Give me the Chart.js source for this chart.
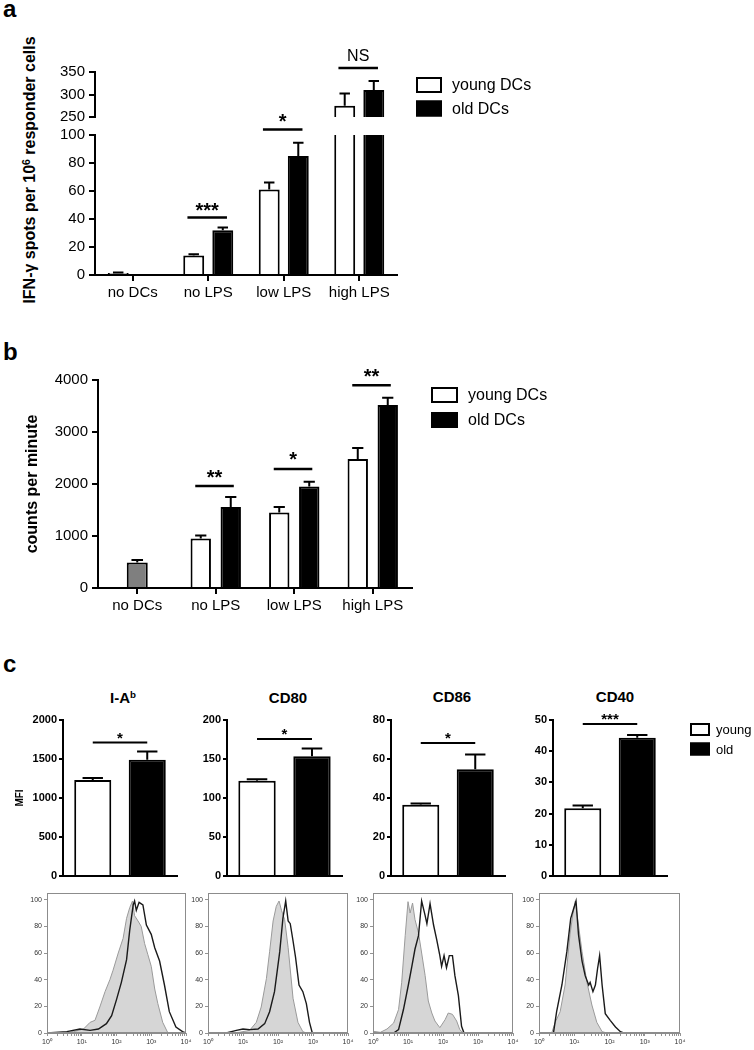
<!DOCTYPE html>
<html lang="en">
<head>
<meta charset="UTF-8" />
<title>Young vs old DCs</title>
<script src="https://cdn.jsdelivr.net/npm/chart.js"></script>
<style>
  body { margin: 0; background: #fff; }
  #stage { position: relative; width: 754px; height: 1050px; overflow: hidden;
           font-family: 'Liberation Sans', Arial, Helvetica, sans-serif; color: #000; }
  #stage canvas { position: absolute; left: 0; top: 0; }
  .txt { position: absolute; white-space: nowrap; line-height: 1; }
  .letter { font-weight: bold; font-size: 24px; }
  .sub { font-weight: bold; font-size: 15px; transform: translate(-50%, -50%); }
  .ytitle { font-weight: bold; font-size: 16px; transform: translate(-50%, -50%) rotate(-90deg); }
  sup { font-size: 65%; line-height: 0; vertical-align: 0.45em; }
</style>
</head>
<body>
<div id="stage">
  <div class="txt letter" style="left:3px;top:-3px">a</div>
  <div class="txt letter" style="left:3px;top:340px">b</div>
  <div class="txt letter" style="left:3px;top:652px">c</div>
  <div class="txt ytitle" style="left:30px;top:170px">IFN-γ spots per 10<sup>6</sup> responder cells</div>
  <div class="txt sub" style="left:123px;top:697px">I-A<sup>b</sup></div>
  <div class="txt sub" style="left:288px;top:697px">CD80</div>
  <div class="txt sub" style="left:452px;top:696px">CD86</div>
  <div class="txt sub" style="left:615px;top:696px">CD40</div>
</div>

<script>
// ---- panel a: IFN-γ spots ----
const aCategories = ['no DCs', 'no LPS', 'low LPS', 'high LPS'];
const aYoung = [1.5, 14, 61, 275];
const aYoungErr = [0.3, 0.8, 5, 27];
const aOld = [null, 32, 85, 310];
const aOldErr = [null, 2, 9.5, 20];
const aSigLabels = [null, '***', '*', 'NS'];
const aSigY = [null, 41, 104, 359];

// ---- panel b: counts per minute ----
const bCategories = ['no DCs', 'no LPS', 'low LPS', 'high LPS'];
const bControl = [490, null, null, null];
const bControlErr = [50, null, null, null];
const bYoung = [null, 950, 1450, 2480];
const bYoungErr = [null, 60, 110, 210];
const bOld = [null, 1560, 1950, 3520];
const bOldErr = [null, 190, 95, 140];
const bSigLabels = [null, '**', '*', '**'];
const bSigY = [null, 1960, 2290, 3900];

// ---- panel c: MFI ----
const cMarkers = ['I-Ab', 'CD80', 'CD86', 'CD40'];
const cYoung = [1230, 122, 36.6, 21.7];
const cYoungErr = [25, 2, 0.6, 0.9];
const cOld = [1490, 153.5, 54.7, 44.3];
const cOldErr = [105, 10, 7.6, 0.9];
const cMax = [2000, 200, 80, 50];
const cStep = [500, 50, 20, 10];
const cSigLabels = ['*', '*', '*', '***'];
const cSigY = [1710, 175.6, 68.2, 48.7];

// ---- histograms (x = log10 fluorescence, y = % of max) ----
const histYTicks = [0, 20, 40, 60, 80, 100];
const h1GrayX = [0.48, 0.76, 1.05, 1.24, 1.38, 1.52, 1.67, 1.81, 1.90, 2.05, 2.19, 2.29, 2.38, 2.46, 2.52, 2.62, 2.71, 2.81, 2.90, 3.00, 3.10, 3.19, 3.33, 3.48];
const h1GrayY = [0, 1, 3, 8, 9.5, 19.5, 31, 40, 47, 60, 71, 86, 94, 99, 88, 84, 80, 67, 59, 50, 33, 22, 8, 0];
const h1BlackX = [0, 0.57, 0.95, 1.24, 1.48, 1.71, 1.86, 2.0, 2.14, 2.29, 2.38, 2.48, 2.52, 2.57, 2.65, 2.76, 2.86, 3.0, 3.1, 3.24, 3.38, 3.52, 3.71, 3.9, 4.0];
const h1BlackY = [0, 1, 3, 2, 3, 7, 13, 25, 38, 55, 77, 96, 99, 92, 98, 96, 81, 74, 64, 54, 36, 16, 4.5, 1, 0];

const h2GrayX = [0.52, 0.9, 1.19, 1.38, 1.52, 1.67, 1.76, 1.86, 1.95, 2.03, 2.1, 2.19, 2.29, 2.43, 2.57, 2.71, 2.81];
const h2GrayY = [0, 0.5, 2, 8, 19.5, 41, 61, 84, 95, 99, 92, 85, 64, 26, 8, 1, 0];
const h2BlackX = [0, 0.52, 0.81, 1.0, 1.19, 1.43, 1.62, 1.76, 1.9, 2.05, 2.14, 2.22, 2.29, 2.35, 2.43, 2.5, 2.6, 2.71, 2.81, 2.9, 2.98, 4.0];
const h2BlackY = [0, 0, 2, 3, 2.5, 3, 7, 16, 31, 61, 86, 99, 84, 82, 69, 57, 36, 31, 22, 8, 0, 0];

const h3GrayX = [0, 0.21, 0.4, 0.59, 0.73, 0.82, 0.92, 1.0, 1.06, 1.13, 1.2, 1.3, 1.39, 1.49, 1.58, 1.68, 1.77, 1.91, 2.06, 2.15, 2.27, 2.39, 2.48, 2.58];
const h3GrayY = [1.3, 0.5, 3, 7.5, 17.6, 38, 73, 98.5, 90, 97.5, 85, 75, 60, 43, 24, 15, 9, 4, 10, 15, 14, 9, 2.5, 0];
const h3BlackX = [0, 0.59, 0.73, 0.87, 1.01, 1.11, 1.2, 1.3, 1.39, 1.49, 1.54, 1.63, 1.73, 1.82, 1.91, 1.96, 2.03, 2.1, 2.18, 2.27, 2.34, 2.44, 2.53, 2.6, 4.0];
const h3BlackY = [0, 0, 2.5, 17.6, 36, 50, 63, 73, 99, 88, 82, 97, 81, 70, 58, 50, 58, 49, 58, 58, 43, 28, 5, 0, 0];

const h4GrayX = [0.36, 0.46, 0.6, 0.74, 0.88, 0.96, 1.03, 1.12, 1.22, 1.36, 1.5, 1.64, 1.79, 1.93];
const h4GrayY = [0, 8, 16, 36, 74, 89, 99, 81, 61, 38, 21, 8, 1, 0];
const h4BlackX = [0, 0.41, 0.5, 0.65, 0.79, 0.9, 0.98, 1.05, 1.12, 1.22, 1.31, 1.41, 1.45, 1.53, 1.6, 1.66, 1.72, 1.79, 1.88, 2.02, 2.17, 2.31, 2.4, 4.0];
const h4BlackY = [0, 0, 16, 36, 61, 86, 93, 99, 74, 54, 43, 36, 38, 31, 36, 48, 58, 36, 14.5, 9.5, 4.5, 1, 0, 0];

// ---- setup ----
const W = 754, H = 1050;
Chart.defaults.font.family = "'Liberation Sans', Arial, Helvetica, sans-serif";
Chart.defaults.color = '#000';
Chart.defaults.animation = false;
Chart.defaults.responsive = false;
Chart.defaults.devicePixelRatio = 1;
Chart.defaults.plugins.legend.display = false;
Chart.defaults.plugins.tooltip.enabled = false;

const stage = document.getElementById('stage');
function newCanvas() {
  const c = document.createElement('canvas');
  c.width = W; c.height = H;
  stage.appendChild(c);
  return c;
}

// error bars: only the upper whisker, like the original
function errorBars(cap) {
  return {
    id: 'errorBars',
    afterDatasetsDraw(chart) {
      const ctx = chart.ctx, ys = chart.scales.y;
      ctx.save();
      ctx.strokeStyle = '#000';
      ctx.lineWidth = 2;
      chart.data.datasets.forEach((ds, i) => {
        if (!ds.errors) return;
        chart.getDatasetMeta(i).data.forEach((bar, j) => {
          const v = ds.data[j], e = ds.errors[j];
          if (v == null || !e || v > ys.max || v < ys.min) return;
          const top = ys.getPixelForValue(v + e);
          const half = bar.width * cap / 2;
          ctx.beginPath();
          ctx.moveTo(bar.x, bar.y); ctx.lineTo(bar.x, top);
          ctx.moveTo(bar.x - half, top); ctx.lineTo(bar.x + half, top);
          ctx.stroke();
        });
      });
      ctx.restore();
    }
  };
}

// significance lines with stars / NS
function sigLines(o) {
  return {
    id: 'sigLines',
    afterDatasetsDraw(chart) {
      const ctx = chart.ctx, ys = chart.scales.y;
      const m0 = chart.getDatasetMeta(o.a).data, m1 = chart.getDatasetMeta(o.b).data;
      ctx.save();
      ctx.strokeStyle = '#000'; ctx.fillStyle = '#000';
      ctx.lineWidth = o.lineWidth;
      ctx.textAlign = 'center'; ctx.textBaseline = 'alphabetic';
      o.y.forEach((v, j) => {
        if (v == null) return;
        const x0 = m0[j].x - m0[j].width * o.left;
        const x1 = m1[j].x + m1[j].width * o.right;
        const py = ys.getPixelForValue(v);
        ctx.beginPath(); ctx.moveTo(x0, py); ctx.lineTo(x1, py); ctx.stroke();
        const star = /^\*+$/.test(o.labels[j]);
        ctx.font = star ? o.starFont : o.textFont;
        ctx.fillText(o.labels[j], (x0 + x1) / 2, py - (star ? o.starGap : o.textGap));
      });
      ctx.restore();
    }
  };
}

// legend with outlined boxes
function boxLegend(o) {
  return {
    id: 'boxLegend',
    afterDraw(chart) {
      const ctx = chart.ctx;
      ctx.save();
      ctx.font = o.font; ctx.textBaseline = 'middle'; ctx.textAlign = 'left';
      chart.data.datasets.filter(d => d.inLegend).forEach((d, i) => {
        const y = o.y + i * o.pitch;
        ctx.fillStyle = d.backgroundColor;
        ctx.fillRect(o.x, y, o.w, o.h);
        ctx.strokeStyle = '#000'; ctx.lineWidth = 2;
        ctx.strokeRect(o.x + 1, y + 1, o.w - 2, o.h - 2);
        ctx.fillStyle = '#000';
        ctx.fillText(d.label, o.textX, y + o.h / 2 + 1);
      });
      ctx.restore();
    }
  };
}

function barSet(label, data, errors, fill, extra) {
  return Object.assign({ label, data, errors, backgroundColor: fill, borderColor: '#000',
    borderWidth: 2, borderSkipped: 'start', clip: 0 }, extra || {});
}

function barChart(o) {
  const a = o.area;
  return new Chart(newCanvas(), {
    type: 'bar',
    data: { labels: o.labels, datasets: o.datasets },
    options: {
      layout: { padding: { left: a.l - o.yW, right: W - a.r, top: a.t, bottom: H - a.b - o.xH } },
      datasets: { bar: { categoryPercentage: o.cp, barPercentage: o.bp } },
      scales: {
        x: {
          display: o.xDisplay,
          offset: true,
          afterFit: s => { s.height = o.xH; },
          grid: { offset: false, drawOnChartArea: false, drawTicks: o.xTicks, tickLength: 6,
                  color: '#000', lineWidth: 2 },
          border: { color: '#000', width: 2 },
          ticks: { display: o.xTicks, font: o.tickFont, padding: 3, maxRotation: 0, autoSkip: false }
        },
        y: {
          min: o.yMin, max: o.yMax,
          afterFit: s => { s.width = o.yW; },
          grid: { drawOnChartArea: false, tickLength: o.tickLen, color: '#000', lineWidth: 2 },
          border: { color: '#000', width: 2 },
          ticks: { stepSize: o.yStep, font: o.tickFont, padding: o.tickPad, callback: v => String(v) },
          title: o.yTitle || { display: false }
        }
      }
    },
    plugins: o.plugins
  });
}

// ---- panel a: broken axis = two stacked charts sharing the categories ----
const aTick = { size: 15 };
function aDatasets() {
  return [
    barSet('young DCs', aYoung, aYoungErr, '#ffffff', { inLegend: true }),
    barSet('old DCs', aOld, aOldErr, '#000000', { inLegend: true })
  ];
}
const aSigStyle = { a: 0, b: 1, left: 0.3, right: 0.2, lineWidth: 2.5,
  starFont: 'bold 20px "Liberation Sans", Arial', starGap: 1,
  textFont: '16px "Liberation Sans", Arial', textGap: 7 };

barChart({
  area: { l: 95, r: 397, t: 72, b: 117 }, labels: aCategories, datasets: aDatasets(),
  yMin: 250, yMax: 350, yStep: 50, yW: 50, xH: 0, xDisplay: false, xTicks: false,
  tickFont: aTick, tickLen: 6, tickPad: 4, cp: 0.77, bp: 0.72,
  plugins: [errorBars(0.5),
    sigLines(Object.assign({ y: aSigY.map(v => (v != null && v >= 250) ? v : null), labels: aSigLabels }, aSigStyle)),
    boxLegend({ x: 416, y: 77, w: 26, h: 16, pitch: 23.5, textX: 452, font: '16px "Liberation Sans", Arial' })]
});
barChart({
  area: { l: 95, r: 397, t: 135, b: 275 }, labels: aCategories, datasets: aDatasets(),
  yMin: 0, yMax: 100, yStep: 20, yW: 50, xH: 28, xDisplay: true, xTicks: true,
  tickFont: aTick, tickLen: 6, tickPad: 4, cp: 0.77, bp: 0.72,
  plugins: [errorBars(0.5),
    sigLines(Object.assign({ y: aSigY.map(v => (v != null && v < 250) ? v : null), labels: aSigLabels }, aSigStyle))]
});

// ---- panel b ----
barChart({
  area: { l: 98, r: 412, t: 380, b: 588 }, labels: bCategories,
  datasets: [
    barSet('young DCs', bYoung, bYoungErr, '#ffffff', { inLegend: true }),
    barSet('old DCs', bOld, bOldErr, '#000000', { inLegend: true }),
    barSet('no DCs', bControl, bControlErr, '#7f7f7f', { grouped: false, maxBarThickness: 21 })
  ],
  yMin: 0, yMax: 4000, yStep: 1000, yW: 80, xH: 30, xDisplay: true, xTicks: true,
  tickFont: { size: 15 }, tickLen: 6, tickPad: 4, cp: 0.764, bp: 0.68,
  yTitle: { display: true, text: 'counts per minute', font: { size: 16, weight: 'bold' }, padding: { top: 5, bottom: 0 } },
  plugins: [errorBars(0.55),
    sigLines({ y: bSigY, labels: bSigLabels, a: 0, b: 1, left: 0.27, right: 0.15, lineWidth: 2.5,
      starFont: 'bold 20px "Liberation Sans", Arial', starGap: 2.5,
      textFont: '16px "Liberation Sans", Arial', textGap: 7 }),
    boxLegend({ x: 431, y: 387, w: 27, h: 16, pitch: 25, textX: 468, font: '16px "Liberation Sans", Arial' })]
});

// ---- panel c: MFI bar charts ----
const cAreas = [{ l: 63, r: 177 }, { l: 227, r: 342 }, { l: 391, r: 505 }, { l: 553, r: 667 }];
cMarkers.forEach((m, i) => {
  const plugins = [errorBars(0.55),
    sigLines({ y: [cSigY[i]], labels: [cSigLabels[i]], a: 0, b: 1, left: 0, right: 0, lineWidth: 2,
      starFont: 'bold 15px "Liberation Sans", Arial', starGap: 0,
      textFont: '14px "Liberation Sans", Arial', textGap: 5 })];
  if (i === 3) plugins.push(boxLegend({ x: 690, y: 723, w: 20, h: 13, pitch: 19.5, textX: 716,
    font: '13px "Liberation Sans", Arial' }));
  barChart({
    area: { l: cAreas[i].l, r: cAreas[i].r, t: 720, b: 876 }, labels: [m],
    datasets: [
      barSet('young', [cYoung[i]], [cYoungErr[i]], '#ffffff', { inLegend: true }),
      barSet('old', [cOld[i]], [cOldErr[i]], '#000000', { inLegend: true })
    ],
    yMin: 0, yMax: cMax[i], yStep: cStep[i], yW: i === 0 ? 55 : 40, xH: 2, xDisplay: true, xTicks: false,
    tickFont: { size: 11, weight: 'bold' }, tickLen: 4, tickPad: 2, cp: 0.956, bp: 0.68,
    yTitle: i === 0 ? { display: true, text: 'MFI', font: { size: 10, weight: 'bold' }, padding: { top: 6, bottom: 0 } } : null,
    plugins
  });
});

// ---- panel c: flow histograms ----
const SUP = ['\u2070', '\u00B9', '\u00B2', '\u00B3', '\u2074'];
function decadeTicks() {
  const t = [];
  for (let n = 0; n < 4; n++) for (let k = 1; k < 10; k++) t.push({ value: n + Math.log10(k) });
  t.push({ value: 4 });
  return t;
}
function pts(xs, ys) { return xs.map((x, i) => ({ x, y: ys[i] })); }
const frame = {
  id: 'frame',
  afterDraw(chart) {
    const a = chart.chartArea, ctx = chart.ctx;
    ctx.save();
    ctx.strokeStyle = '#8c8c8c'; ctx.lineWidth = 1;
    ctx.strokeRect(a.left + 0.5, a.top + 0.5, a.right - a.left - 1, a.bottom - a.top - 1);
    ctx.restore();
  }
};
function histChart(area, grayX, grayY, blackX, blackY) {
  const small = { size: 7 };
  return new Chart(newCanvas(), {
    type: 'line',
    data: {
      datasets: [
        { data: pts(blackX, blackY), borderColor: '#1a1a1a', borderWidth: 1.4, pointRadius: 0, fill: false, order: 1 },
        { data: pts(grayX, grayY), borderColor: '#9a9a9a', borderWidth: 1, backgroundColor: '#d6d6d6',
          pointRadius: 0, fill: 'origin', order: 2 }
      ]
    },
    options: {
      layout: { padding: { left: area.l - 22, right: W - area.r, top: area.t, bottom: H - area.b - 14 } },
      scales: {
        x: {
          type: 'linear', min: 0, max: 4,
          afterFit: s => { s.height = 14; },
          afterBuildTicks: s => { s.ticks = decadeTicks(); },
          ticks: { autoSkip: false, maxRotation: 0, font: small, color: '#333', padding: 2,
                   callback: v => Number.isInteger(v) ? '10' + SUP[v] : '' },
          grid: { drawOnChartArea: false, tickLength: 3, color: '#777', lineWidth: 0.8 },
          border: { color: '#8c8c8c', width: 1 }
        },
        y: {
          min: 0, max: 105,
          afterFit: s => { s.width = 22; },
          afterBuildTicks: s => { s.ticks = histYTicks.map(v => ({ value: v })); },
          ticks: { autoSkip: false, font: small, color: '#333', padding: 2 },
          grid: { drawOnChartArea: false, tickLength: 3, color: '#777', lineWidth: 0.8 },
          border: { color: '#8c8c8c', width: 1 }
        }
      }
    },
    plugins: [frame]
  });
}
histChart({ l: 47, r: 186, t: 893, b: 1033 }, h1GrayX, h1GrayY, h1BlackX, h1BlackY);
histChart({ l: 208, r: 348, t: 893, b: 1033 }, h2GrayX, h2GrayY, h2BlackX, h2BlackY);
histChart({ l: 373, r: 513, t: 893, b: 1033 }, h3GrayX, h3GrayY, h3BlackX, h3BlackY);
histChart({ l: 539, r: 680, t: 893, b: 1033 }, h4GrayX, h4GrayY, h4BlackX, h4BlackY);
</script>
</body>
</html>
